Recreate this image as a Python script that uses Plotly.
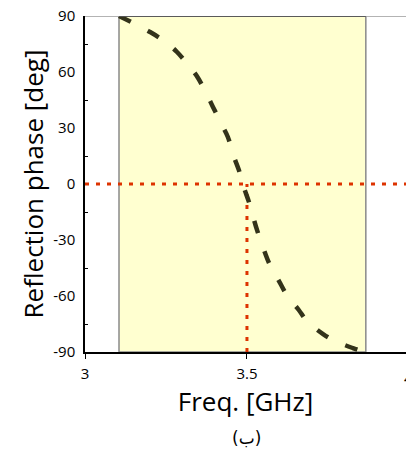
import plotly.graph_objects as go

# Data
freq = [3.105, 3.201, 3.253, 3.284, 3.324, 3.349, 3.380, 3.395, 3.426, 3.441,
        3.460, 3.475, 3.491, 3.506, 3.531, 3.556, 3.571, 3.602, 3.623, 3.660,
        3.685, 3.735, 3.772, 3.827, 3.864]
phase = [90.0, 81.4, 75.5, 70.7, 62.7, 56.8, 46.6, 41.3, 30.5, 25.2,
         14.5, 7.5, -2.1, -9.6, -24.6, -37.0, -43.4, -53.0, -59.5, -67.5,
         -73.4, -80.4, -84.1, -87.9, -90.0]
band = [3.105, 3.867]          # shaded frequency band
ref_freq = 3.5                 # resonance marker
ref_phase = 0
y_ticks = [-90, -60, -30, 0, 30, 60, 90]
y_ticks_text = ["-90", "-60", "-30", "0", "30", "60", "90"]
y_minor = [-75, -45, -15, 15, 45, 75]
x_ticks = [3, 3.5]
x_ticks_text = ["3", "3.5"]
x_cut_tick = 4
x_range = [3, 3.991]
y_range = [-90, 90]

font_main = "Open Sans"

fig = go.Figure()

# shaded band
fig.add_shape(type="rect", xref="x", yref="y", x0=band[0], x1=band[1],
              y0=y_range[0], y1=y_range[1], fillcolor="#FFFFD0",
              line=dict(color="#8a8a8a", width=1.5), layer="below")
# top frame line
fig.add_shape(type="line", xref="x", yref="y", x0=x_range[0], x1=x_range[1],
              y0=y_range[1], y1=y_range[1], line=dict(color="#9a9a9a", width=1.5))
fig.add_shape(type="line", xref="x", yref="y", x0=band[0], x1=band[1],
              y0=y_range[1], y1=y_range[1], line=dict(color="#444444", width=1.5))

# red dotted reference lines
fig.add_trace(go.Scatter(x=[x_range[0], x_range[1]], y=[ref_phase, ref_phase],
                         mode="lines", line=dict(color="#DD3300", width=3, dash="4px,7px"),
                         hoverinfo="skip", showlegend=False))
fig.add_trace(go.Scatter(x=[ref_freq, ref_freq], y=[y_range[0], ref_phase],
                         mode="lines", line=dict(color="#DD3300", width=3, dash="4px,7px"),
                         hoverinfo="skip", showlegend=False))

# phase curve
fig.add_trace(go.Scatter(x=freq, y=phase, mode="lines", line_shape="spline",
                         line=dict(color="#33331a", width=4.5, dash="13px,19px"),
                         showlegend=False))

fig.update_layout(
    width=406, height=457,
    margin=dict(l=85, r=0, t=16, b=105),
    paper_bgcolor="white", plot_bgcolor="white",
    font=dict(family=font_main, color="black"),
    xaxis=dict(range=x_range, tickvals=x_ticks, ticktext=x_ticks_text,
               ticks="outside", ticklen=5, tickcolor="black",
               showline=True, linecolor="black", linewidth=1.5,
               showgrid=False, zeroline=False, tickfont=dict(size=15),
               ticklabelstandoff=2,
               title=dict(text="Freq. [GHz]", font=dict(size=26), standoff=4)),
    yaxis=dict(range=y_range, tickvals=y_ticks, ticktext=y_ticks_text, ticks="",
               showline=True, linecolor="black", linewidth=1.5,
               showgrid=False, zeroline=False, tickfont=dict(size=15),
               ticklabelstandoff=5,
               minor=dict(tickvals=y_minor, ticks="inside", ticklen=3, tickcolor="black"),
               title=dict(text="Reflection phase [deg]", font=dict(size=26), standoff=2)),
)

# partially visible tick label at 4 (beyond the visible range)
fig.add_annotation(x=(x_cut_tick - x_range[0]) / (x_range[1] - x_range[0]), xref="paper",
                   y=0, yref="paper", yshift=-14, yanchor="top", xanchor="center",
                   text=str(x_cut_tick), showarrow=False, font=dict(size=15))
# caption
fig.add_annotation(x=(ref_freq - x_range[0]) / (x_range[1] - x_range[0]), xref="paper",
                   y=0, yref="paper", yshift=-74, yanchor="top", xanchor="center",
                   text="(ب)", showarrow=False, font=dict(size=17, family="DejaVu Sans"))

fig.write_html("out.html")
